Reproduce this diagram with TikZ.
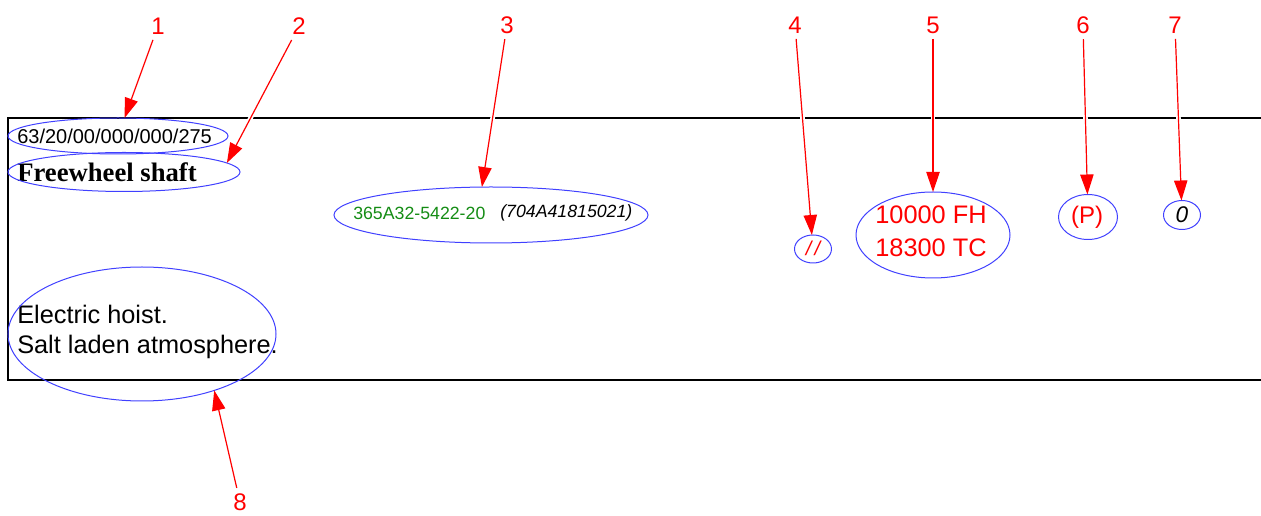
\documentclass[tikz,border=0pt]{standalone}
\usepackage{fontspec}
\setmainfont{Liberation Serif}
\setsansfont{Liberation Sans}
\usepackage{tikz}
\usetikzlibrary{shapes.geometric,arrows.meta}
\definecolor{partgreen}{RGB}{20,140,20}
\tikzset{frame/.style={line width=1.8pt, black}}
\tikzset{ring/.style={ellipse, draw=blue!75, line width=0.75pt, inner sep=0pt, outer sep=0pt}}
\tikzset{callout/.style={red, line width=0.9pt, -{Triangle[length=15pt,width=10pt]}, preaction={draw=white, line width=3.5pt, -, shorten >=17pt, shorten <=2pt}}}
\tikzset{digit/.style={text=red, inner sep=4pt, font=\sffamily\fontsize{18}{21}\selectfont}}
\tikzset{field/.style={inner sep=0pt, anchor=west}}

\begin{document}
\begin{tikzpicture}[x=0.75pt,y=-0.75pt]
\useasboundingbox (0,0) rectangle (1261,516);
\draw[frame] (8,118) rectangle (1275,380);

\node (t1) at (17,136)[field, font=\sffamily\fontsize{15}{18}\selectfont]{63/20/00/000/000/275};
\node (t2) at (17,172)[field, font=\bfseries\fontsize{20}{24}\selectfont]{Freewheel shaft};
\node (t3) at (353,213)[field, text=partgreen, font=\sffamily\fontsize{13.3}{16}\selectfont]{365A32-5422-20};
\node (t3b) at (500,213)[field, font=\sffamily\itshape\fontsize{13.3}{16}\selectfont]{(704A41815021)};
\node (t4) at (813,248)[inner sep=0pt, text=red, font=\sffamily\itshape\fontsize{15}{18}\selectfont]{/\kern2.5pt/};
\node (t5) at (931,231)[inner sep=0pt, text=red, align=center, font=\sffamily\fontsize{19}{24.75}\selectfont]{10000 FH\\18300 TC};
\node (t6) at (1087,217)[inner sep=0pt, text=red, font=\sffamily\fontsize{18}{21}\selectfont]{(P)};
\node (t7) at (1182,215)[inner sep=0pt, font=\sffamily\itshape\fontsize{17}{20}\selectfont]{0};
\node (t8) at (17,332)[field, align=left, font=\sffamily\fontsize{19}{22.5}\selectfont]{Electric hoist.\\Salt laden atmosphere.};

%ellipses round the fields
\node (e1) at (118,136)[ring, minimum width=165pt, minimum height=27pt]{};
\node (e2) at (124,172)[ring, minimum width=174pt, minimum height=29.25pt]{};
\node (e3) at (491,215)[ring, minimum width=235.5pt, minimum height=42pt]{};
\node (e4) at (813,249)[ring, minimum width=27.75pt, minimum height=21pt]{};
\node (e5) at (933,235)[ring, minimum width=115.5pt, minimum height=64.5pt]{};
\node (e6) at (1088,217)[ring, minimum width=44.25pt, minimum height=33.75pt]{};
\node (e7) at (1182,215)[ring, minimum width=27.75pt, minimum height=21.75pt]{};
\node (e8) at (142,334)[ring, minimum width=201pt, minimum height=100.5pt]{};

%numbers and arrows
\node (n1) at (158,26)[digit]{1};
\node (n2) at (299,26)[digit]{2};
\node (n3) at (507,25)[digit]{3};
\node (n4) at (795,25)[digit]{4};
\node (n5) at (933,25)[digit]{5};
\node (n6) at (1083,25)[digit]{6};
\node (n7) at (1175,25)[digit]{7};
\node (n8) at (240,502)[digit]{8};
\draw[callout] (n1)--(e1);
\draw[callout] (n2)--(e2.5);
\draw[callout] (n3)--(e3.108);
\draw[callout] (n4)--(e4);
\draw[callout] (n5)--(e5);
\draw[callout] (n6)--(e6);
\draw[callout] (n7)--(e7);
\draw[callout] (n8)--(e8.-38);
\end{tikzpicture}
\end{document}
